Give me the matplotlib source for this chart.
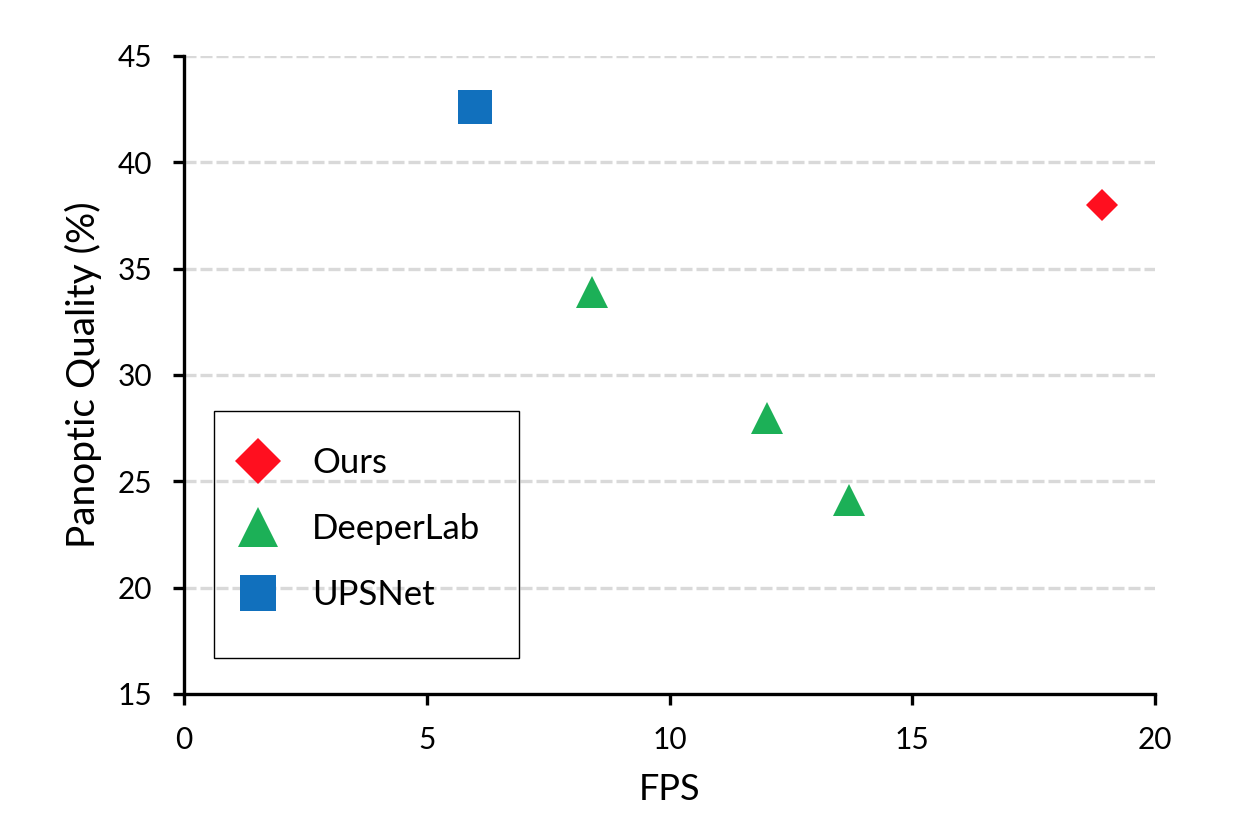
import matplotlib
matplotlib.use('Agg')
import matplotlib.pyplot as plt
from matplotlib.lines import Line2D
from matplotlib.patches import Rectangle

plt.rcParams['font.family'] = ['Lato', 'DejaVu Sans']

# data
ours_fps = [18.9]
ours_pq = [38.0]
deeperlab_fps = [8.4, 12.0, 13.7]
deeperlab_pq = [33.9, 28.0, 24.1]
upsnet_fps = [6.0]
upsnet_pq = [42.6]

RED = '#ff0f1f'
GREEN = '#1cb057'
BLUE = '#1170bd'

fig = plt.figure(figsize=(12.46, 8.32), dpi=100)
ax = fig.add_axes([0.1477, 0.1659, 0.927 - 0.1477, 0.9327 - 0.1659])

ax.plot(ours_fps, ours_pq, linestyle='none', marker='D', ms=16.3, color=RED, mew=0)
ax.plot(deeperlab_fps, deeperlab_pq, linestyle='none', marker='^', ms=23, color=GREEN, mew=0)
ax.plot(upsnet_fps, upsnet_pq, linestyle='none', marker='s', ms=24.5, color=BLUE, mew=0)

ax.set_xlim(0, 20)
ax.set_ylim(15, 45)
ax.set_xticks([0, 5, 10, 15, 20])
ax.set_yticks([15, 20, 25, 30, 35, 40, 45])

# dashed horizontal gridlines (not at the bottom axis)
for yv in [20, 25, 30, 35, 40, 45]:
    ax.axhline(yv, color='#d9d9d9', lw=2.4, linestyle=(0, (3.6, 1.2)), zorder=0)

for side in ['top', 'right']:
    ax.spines[side].set_visible(False)
for side in ['left', 'bottom']:
    ax.spines[side].set_linewidth(2.4)
ax.tick_params(axis='both', direction='out', length=8, width=2.4, labelsize=21.5)
ax.tick_params(axis='y', pad=15)
ax.tick_params(axis='x', pad=15)

ax.set_xlabel('FPS', fontsize=26, labelpad=14)
ax.set_ylabel('Panoptic Quality (%)', fontsize=28, labelpad=11)

# legend
handles = [
    Line2D([], [], linestyle='none', marker='D', ms=23, color=RED, mew=0),
    Line2D([], [], linestyle='none', marker='^', ms=29, color=GREEN, mew=0),
    Line2D([], [], linestyle='none', marker='s', ms=26, color=BLUE, mew=0),
]
leg = ax.legend(handles, ['Ours', 'DeeperLab', 'UPSNet'], loc='upper left',
                bbox_to_anchor=(0.037, 0.414), frameon=False, fontsize=25,
                handlelength=1.2, handletextpad=0.95, labelspacing=0.98,
                borderpad=0)
ax.add_patch(Rectangle((0.0312, 0.056), 0.314, 0.388, transform=ax.transAxes,
                       fill=False, edgecolor='black', lw=1.0, zorder=5))

fig.savefig('out.png', dpi=100)
